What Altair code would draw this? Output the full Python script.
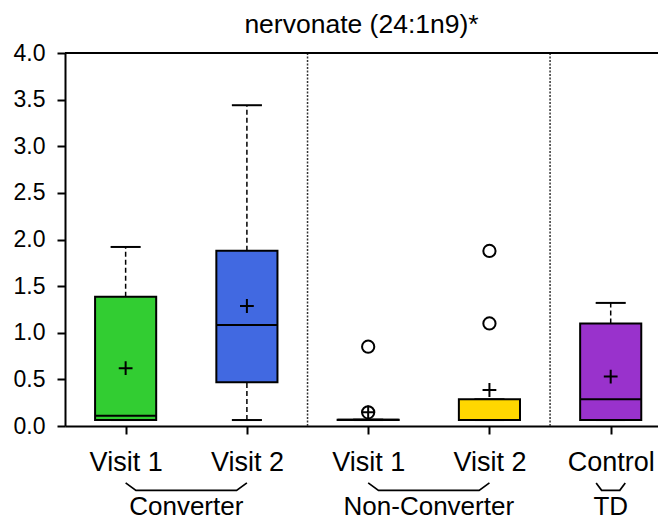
import json
import altair as alt
import pandas as pd

title_text = "nervonate (24:1n9)*"
positions = [1, 2, 3, 4, 5]
visit_labels = ["Visit 1", "Visit 2", "Visit 1", "Visit 2", "Control"]
box_colors = ["#32CD32", "#4169E1", "#E0E0E0", "#FFD700", "#9932CC"]
whisker_low = [0.064, 0.064, 0.064, 0.064, 0.064]
q1 = [0.064, 0.468, 0.064, 0.064, 0.064]
median = [0.11, 1.083, 0.066, 0.064, 0.286]
q3 = [1.387, 1.88, 0.068, 0.286, 1.10]
whisker_high = [1.92, 3.44, 0.068, 0.286, 1.32]
means = [0.62, 1.287, 0.147, 0.386, 0.53]
outlier_pos = [3, 3, 4, 4]
outlier_val = [0.85, 0.147, 1.10, 1.877]
group_names = ["Converter", "Non-Converter", "TD"]
group_start = [1, 3, 5]
group_end = [2, 4, 5]
separators = [2.5, 4.5]
y_ticks = [0.0, 0.5, 1.0, 1.5, 2.0, 2.5, 3.0, 3.5, 4.0]

FONT = "Liberation Sans"
X_DOMAIN = [0.5, 5.39]
Y_DOMAIN = [0, 4]
HALF_BOX = 0.252
HALF_CAP = 0.124

boxes = pd.DataFrame({
    "pos": positions, "label": visit_labels, "color": box_colors,
    "lo": whisker_low, "q1": q1, "med": median, "q3": q3, "hi": whisker_high,
    "mean": means,
})
outliers = pd.DataFrame({"pos": outlier_pos, "val": outlier_val})
seps = pd.DataFrame({"x": separators})

# bracket geometry (in data units)
br_rows = []
for name, s, e in zip(group_names, group_start, group_end):
    if s == e:
        a, b, sl = s - 0.12, e + 0.12, 0.045
    else:
        a, b, sl = s, e, 0.085
    pts = [(a, -0.61), (a + sl, -0.69), (b - sl, -0.69), (b, -0.61)]
    for k, (px, py) in enumerate(pts):
        br_rows.append({"g": name, "k": k, "x": px, "y": py})
brackets = pd.DataFrame(br_rows)
glabels = pd.DataFrame({
    "name": group_names,
    "x": [(s + e) / 2 for s, e in zip(group_start, group_end)],
    "y": [-0.87] * len(group_names),
})

xs = alt.Scale(domain=X_DOMAIN, nice=False, zero=False)
ys = alt.Scale(domain=Y_DOMAIN, nice=False, zero=False)

label_expr = json.dumps(visit_labels) + "[datum.value - 1]"

x_axis = alt.Axis(
    values=positions, labelExpr=label_expr, title=None, grid=False,
    domainColor="black", domainWidth=2, tickColor="black", tickWidth=2, tickSize=8,
    labelFont=FONT, labelFontSize=27, labelColor="black", labelPadding=15,
)
y_axis = alt.Axis(
    values=y_ticks, format=".1f", title=None, grid=False,
    domainColor="black", domainWidth=2, tickColor="black", tickWidth=2, tickSize=8,
    labelFont=FONT, labelFontSize=23, labelColor="black", labelPadding=12,
)

base = alt.Chart(boxes)

sep_layer = alt.Chart(seps).mark_rule(
    color="#333333", strokeWidth=1.5, strokeDash=[2, 1.5]
).encode(
    x=alt.X("x:Q", scale=xs, axis=x_axis),
    y=alt.datum(0, scale=ys),
    y2=alt.datum(4),
)

whisk_lo = base.mark_rule(color="black", strokeWidth=1.5, strokeDash=[5, 3]).encode(
    x=alt.X("pos:Q", scale=xs), y=alt.Y("lo:Q", scale=ys, axis=y_axis), y2="q1:Q"
)
whisk_hi = base.mark_rule(color="black", strokeWidth=1.5, strokeDash=[5, 3]).encode(
    x=alt.X("pos:Q", scale=xs), y=alt.Y("q3:Q", scale=ys), y2="hi:Q"
)
cap_lo = base.transform_calculate(
    xa=f"datum.pos - {HALF_CAP}", xb=f"datum.pos + {HALF_CAP}"
).mark_rule(color="black", strokeWidth=2).encode(
    x=alt.X("xa:Q", scale=xs), x2="xb:Q", y=alt.Y("lo:Q", scale=ys)
)
cap_hi = base.transform_calculate(
    xa=f"datum.pos - {HALF_CAP}", xb=f"datum.pos + {HALF_CAP}"
).mark_rule(color="black", strokeWidth=2).encode(
    x=alt.X("xa:Q", scale=xs), x2="xb:Q", y=alt.Y("hi:Q", scale=ys)
)
box = base.transform_calculate(
    xa=f"datum.pos - {HALF_BOX}", xb=f"datum.pos + {HALF_BOX}"
).mark_rect(stroke="black", strokeWidth=2).encode(
    x=alt.X("xa:Q", scale=xs), x2="xb:Q",
    y=alt.Y("q1:Q", scale=ys), y2="q3:Q",
    fill=alt.Fill("color:N", scale=None),
)
med = base.transform_calculate(
    xa=f"datum.pos - {HALF_BOX}", xb=f"datum.pos + {HALF_BOX}"
).mark_rule(color="black", strokeWidth=2).encode(
    x=alt.X("xa:Q", scale=xs), x2="xb:Q", y=alt.Y("med:Q", scale=ys)
)
mean_pts = base.mark_point(
    shape="M-1,0H1M0,-1V1", size=190, filled=False, color="black", strokeWidth=2, opacity=1
).encode(x=alt.X("pos:Q", scale=xs), y=alt.Y("mean:Q", scale=ys))

out_pts = alt.Chart(outliers).mark_point(
    shape="circle", size=150, filled=False, color="black", strokeWidth=2, opacity=1
).encode(x=alt.X("pos:Q", scale=xs), y=alt.Y("val:Q", scale=ys))

top_frame = alt.Chart(seps).mark_rule(color="black", strokeWidth=2).encode(
    x=alt.datum(X_DOMAIN[0], scale=xs), x2=alt.datum(X_DOMAIN[1]),
    y=alt.datum(4, scale=ys),
)

br_layer = alt.Chart(brackets).mark_line(color="black", strokeWidth=1.7).encode(
    x=alt.X("x:Q", scale=xs), y=alt.Y("y:Q", scale=ys), detail="g:N", order="k:Q"
)
gl_layer = alt.Chart(glabels).mark_text(
    font=FONT, fontSize=26, color="black", baseline="middle", align="center"
).encode(x=alt.X("x:Q", scale=xs), y=alt.Y("y:Q", scale=ys), text="name:N")

chart = alt.layer(
    sep_layer, whisk_lo, whisk_hi, cap_lo, cap_hi, box, med, mean_pts, out_pts,
    top_frame, br_layer, gl_layer,
).properties(
    width=593, height=373,
    title=alt.TitleParams(
        title_text, font=FONT, fontSize=26.5, fontWeight="normal", color="black",
        anchor="middle", offset=4,
    ),
    autosize=alt.AutoSizeParams(type="none"),
    padding={"left": 57, "top": 45, "right": 0, "bottom": 95},
).configure_view(stroke=None)

chart.save("out.html", embed_options={"renderer": "svg", "actions": False})
